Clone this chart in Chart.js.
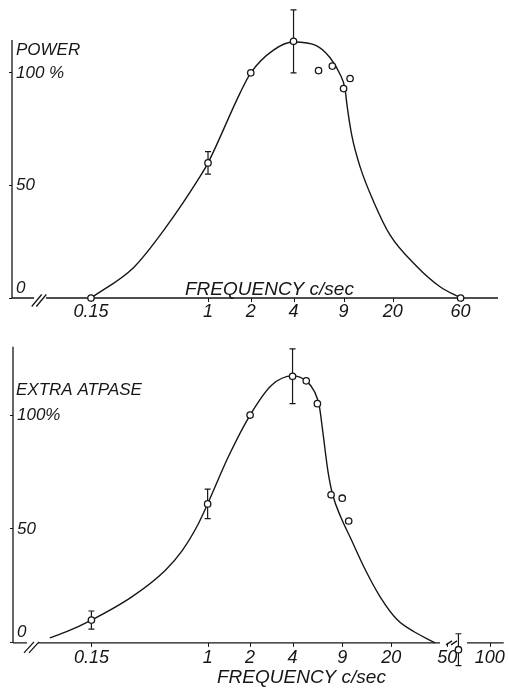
<!DOCTYPE html>
<html>
<head>
<meta charset="utf-8">
<title>Power and extra ATPase against frequency</title>
<script src="https://cdn.jsdelivr.net/npm/chart.js@4.4.0/dist/chart.umd.min.js"></script>
<style>
  html, body { margin: 0; padding: 0; background: #fff; }
  #wrap { position: relative; width: 509px; height: 688px; }
  canvas { position: absolute; left: 0; }
  #powerChart { top: 0; }
  #atpaseChart { top: 330px; }
</style>
</head>
<body>
<div id="wrap">
  <canvas id="powerChart" width="509" height="330"></canvas>
  <canvas id="atpaseChart" width="509" height="358"></canvas>
</div>
<script>
// frequency ticks, c/sec
const powerTicks = [0.15, 1, 2, 4, 9, 20, 60];
const atpaseTicks = [0.15, 1, 2, 4, 9, 20, 50, 100];

// measured points (% of value at 2 c/sec) with error half-ranges
const powerFreq = [0.15, 1, 2, 4, 6, 7.5, 9, 10, 60];
const powerVal  = [0, 60, 100, 114, 101, 103, 93, 97.5, 0];
const powerErr  = [0, 5, 0, 14, 0, 0, 0, 0, 0];

const atpaseFreq = [0.15, 1, 2, 4, 5, 6, 7.5, 9, 10, 60];
const atpaseVal  = [10, 61, 100, 117, 115, 105, 65, 63.5, 53.5, -3];
const atpaseErr  = [4, 6.5, 0, 12, 0, 0, 0, 0, 0, 7];

// hand drawn curves through the points
const powerCurveFreq = [0.15, 0.3, 0.5, 0.88, 1, 1.68, 2, 2.87, 4, 5.83, 7.23, 8.5, 9.22, 9.5, 10.3, 11.8, 14.6, 19.1, 29.5, 43, 60];
const powerCurveVal  = [0, 13.6, 31, 54, 60, 91, 100, 110, 113.7, 112, 106.7, 99.4, 92.8, 86, 72, 58, 43, 28, 14, 5, 0];

const atpaseCurveFreq = [0.076, 0.1, 0.15, 0.29, 0.5, 0.66, 0.86, 1, 1.41, 2, 2.84, 4, 5, 5.73, 6.2, 6.55, 7.13, 7.7, 8.82, 10.4, 12.9, 16.8, 22.2, 29.1, 41];
const atpaseCurveVal  = [2.2, 4.9, 10, 20.2, 31.8, 40.5, 52.3, 61, 82, 100, 113.1, 117.2, 115, 110.2, 103.7, 92.8, 75.3, 65, 55, 45.5, 33, 20, 10, 4.9, 0];

const ink = '#161616';
const family = '"Liberation Sans", Arial, sans-serif';
const cssFont = (size) => `italic ${size}px ${family}`;

function toXY(xs, ys) {
  return xs.map((x, i) => ({ x: x, y: ys[i] }));
}

// axis lines with breaks, tick marks and labels, error bars and titles
function decorations(p) {
  return {
    id: 'decorations',
    beforeDatasetsDraw(chart) {
      const { ctx, chartArea: a, scales: { x, y } } = chart;
      const y0 = y.getPixelForValue(0);
      ctx.save();
      ctx.strokeStyle = ink;
      ctx.lineWidth = 1.3;
      ctx.beginPath();
      ctx.moveTo(a.left, y.getPixelForValue(p.yAxisTop));
      ctx.lineTo(a.left, y0);
      p.segments.forEach(([s, e]) => {
        ctx.moveTo(a.left + s, y0);
        ctx.lineTo(Math.min(a.left + e, a.right), y0);
      });
      p.slashes.forEach(([cx, up, down, half]) => {
        ctx.moveTo(a.left + cx - half, y0 + down);
        ctx.lineTo(a.left + cx + half, y0 - up);
      });
      ctx.stroke();

      // small ticks and labels under the frequency axis
      ctx.lineWidth = 1;
      ctx.beginPath();
      ctx.fillStyle = ink;
      ctx.font = cssFont(18);
      ctx.textAlign = 'center';
      ctx.textBaseline = 'alphabetic';
      p.ticks.forEach((t) => {
        const px = x.getPixelForValue(t);
        const sx = Math.round(px) + 0.5;
        ctx.moveTo(sx, y0);
        ctx.lineTo(sx, y0 + 4);
        ctx.fillText(String(t), px, y0 + p.labelDrop);
      });
      ctx.stroke();

      // error bars
      ctx.lineWidth = 1.2;
      ctx.beginPath();
      p.freq.forEach((f, i) => {
        const e = p.err[i];
        if (!e) return;
        const px = x.getPixelForValue(f);
        const top = y.getPixelForValue(p.val[i] + e);
        const bot = y.getPixelForValue(p.val[i] - e);
        ctx.moveTo(px, top); ctx.lineTo(px, bot);
        ctx.moveTo(px - 3, top); ctx.lineTo(px + 3, top);
        ctx.moveTo(px - 3, bot); ctx.lineTo(px + 3, bot);
      });
      ctx.stroke();
      ctx.restore();
    },
    afterDraw(chart) {
      const { ctx } = chart;
      ctx.save();
      ctx.fillStyle = ink;
      ctx.textBaseline = 'alphabetic';
      ctx.textAlign = 'left';
      ctx.font = cssFont(17);
      ctx.fillText(p.title, p.titlePos[0], p.titlePos[1]);
      ctx.font = cssFont(19);
      ctx.fillText('FREQUENCY c/sec', p.xTitlePos[0], p.xTitlePos[1]);
      ctx.restore();
    }
  };
}

function makePanel(id, cfg) {
  return new Chart(document.getElementById(id), {
    type: 'scatter',
    data: {
      datasets: [
        {
          data: toXY(cfg.freq, cfg.val),
          pointRadius: 3.2,
          pointBorderWidth: 1.3,
          pointBorderColor: ink,
          pointBackgroundColor: '#fff',
          showLine: false,
          clip: false,
          order: 0
        },
        {
          data: toXY(cfg.curveFreq, cfg.curveVal),
          showLine: true,
          borderColor: ink,
          borderWidth: 1.4,
          pointRadius: 0,
          cubicInterpolationMode: 'monotone',
          fill: false,
          clip: false,
          order: 1
        }
      ]
    },
    options: {
      responsive: false,
      animation: false,
      events: [],
      layout: { padding: cfg.padding },
      plugins: { legend: { display: false }, tooltip: { enabled: false } },
      scales: {
        x: {
          type: 'logarithmic',
          min: cfg.xMin,
          max: cfg.xMax,
          border: { display: false },
          grid: { display: false },
          ticks: { display: false },
          afterBuildTicks: (s) => { s.ticks = cfg.ticks.map((v) => ({ value: v })); },
          afterFit: (s) => { s.height = cfg.xAxisHeight; s.paddingLeft = 0; s.paddingRight = 0; }
        },
        y: {
          min: cfg.yMin,
          max: cfg.yMax,
          border: { display: false },
          grid: { drawOnChartArea: false, drawTicks: true, tickLength: 3, color: ink, lineWidth: 1 },
          ticks: {
            mirror: true,
            padding: 4,
            color: ink,
            font: { family: family, size: 17, style: 'italic' },
            callback: (v) => (v === 0 ? ['0', ''] : v === 100 ? cfg.label100 : String(v))
          },
          afterBuildTicks: (s) => { s.ticks = [0, 50, 100].map((v) => ({ value: v })); },
          afterFit: (s) => { s.width = 0; s.paddingTop = 0; s.paddingBottom = 0; }
        }
      }
    },
    plugins: [decorations(cfg)]
  });
}

makePanel('powerChart', {
  freq: powerFreq, val: powerVal, err: powerErr,
  curveFreq: powerCurveFreq, curveVal: powerCurveVal,
  ticks: powerTicks,
  xMin: 0.0417, xMax: 110, yMin: 0, yMax: 130,
  padding: { left: 12, right: 11, top: 2, bottom: 0 },
  xAxisHeight: 32, labelDrop: 19,
  yAxisTop: 114.6,
  label100: '100 %',
  segments: [[0, 22], [34, 500]],
  slashes: [[24.7, 3.5, 8.5, 5], [29.3, 3.5, 8.5, 5]],
  title: 'POWER', titlePos: [16, 55],
  xTitlePos: [185, 295]
});

makePanel('atpaseChart', {
  freq: atpaseFreq, val: atpaseVal, err: atpaseErr,
  curveFreq: atpaseCurveFreq, curveVal: atpaseCurveVal,
  ticks: atpaseTicks,
  xMin: 0.0417, xMax: 125.6, yMin: -4, yMax: 135,
  padding: { left: 13, right: 2, top: 3, bottom: 0 },
  xAxisHeight: 36, labelDrop: 20,
  yAxisTop: 130,
  label100: '100%',
  segments: [[0, 14], [25, 427], [454, 500]],
  slashes: [[16, 1, 10, 5], [21, 1, 10, 5], [436, 2, 2, 3], [441, 2, 2, 3]],
  title: 'EXTRA ATPASE', titlePos: [16, 65],
  xTitlePos: [217, 353]
});
</script>
</body>
</html>
